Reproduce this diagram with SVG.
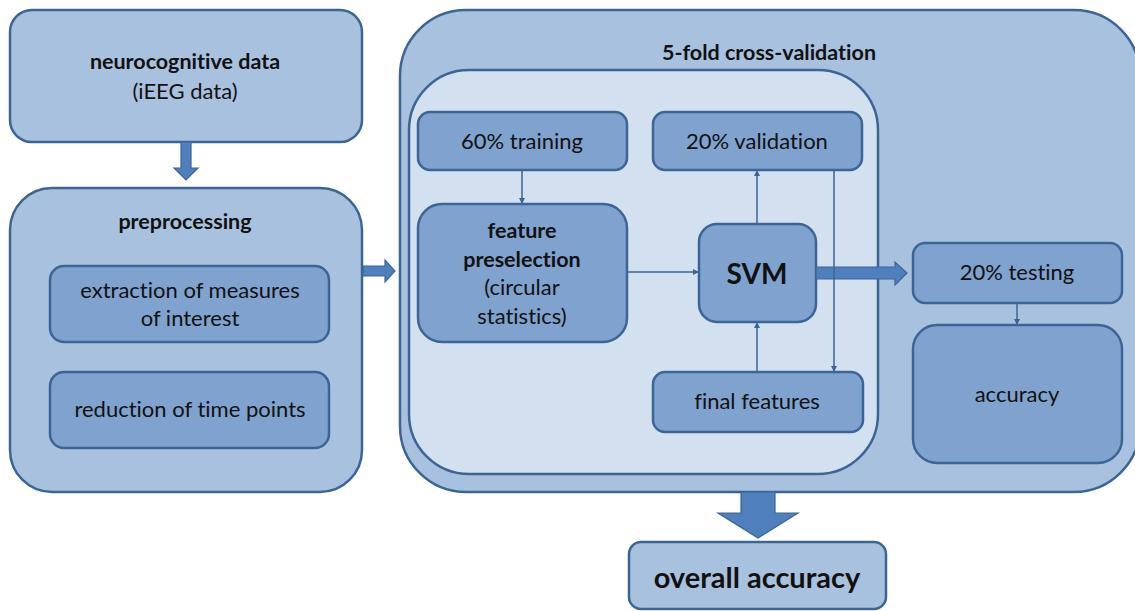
<svg xmlns="http://www.w3.org/2000/svg" width="1135" height="611" viewBox="0 0 1135 611">
  <defs>
    <style>
      .outer { fill: #a8c1df; stroke: #3c6596; stroke-width: 2.5; }
      .inner { fill: #7fa2cf; stroke: #3c6596; stroke-width: 2.5; }
      .pale { fill: #d3e0f0; stroke: #3c6596; stroke-width: 2.5; }
      .big { fill: #4f80bd; stroke: #3c6596; stroke-width: 1.2; }
      .link { fill: none; stroke: #3c6596; stroke-width: 1.5; }
      text { font-family: Lato, "Open Sans", "Liberation Sans", sans-serif; fill: #111; text-anchor: middle; font-size: 22px; font-variant-ligatures: none; }
      .b { font-weight: bold; font-size: 21.5px; }
    </style>
    <marker id="tip" viewBox="0 0 10 10" refX="10" refY="5" markerWidth="6" markerHeight="6" markerUnits="userSpaceOnUse" orient="auto">
      <path d="M0,0 L10,5 L0,10 z" fill="#3c6596"/>
    </marker>
  </defs>

  <!-- input data -->
  <g id="neurocognitive">
    <rect class="outer" x="10" y="10" width="352" height="132" rx="22"/>
    <text class="b" x="185" y="69">neurocognitive data</text>
    <text x="185" y="99">(iEEG data)</text>
  </g>

  <!-- preprocessing stage -->
  <g id="preprocessing">
    <rect class="outer" x="10" y="188" width="352" height="304" rx="42"/>
    <text class="b" x="185" y="229">preprocessing</text>
  </g>
  <g id="extraction">
    <rect class="inner" x="50" y="266" width="279" height="76" rx="14"/>
    <text x="190" y="298">extraction of measures</text>
    <text x="190" y="326">of interest</text>
  </g>
  <g id="reduction">
    <rect class="inner" x="50" y="372" width="279" height="76" rx="14"/>
    <text x="190" y="417">reduction of time points</text>
  </g>

  <!-- cross-validation frame -->
  <g id="crossvalidation">
    <rect class="outer" x="400" y="10" width="740" height="482" rx="66"/>
    <text class="b" x="769" y="60">5-fold cross-validation</text>
  </g>
  <g id="fold">
    <rect class="pale" x="409" y="70" width="469" height="404" rx="60"/>
  </g>
  <g id="training">
    <rect class="inner" x="418" y="112" width="209" height="58" rx="12"/>
    <text x="522" y="149">60% training</text>
  </g>
  <g id="validation">
    <rect class="inner" x="653" y="112" width="209" height="58" rx="12"/>
    <text x="757" y="149">20% validation</text>
  </g>
  <g id="preselection">
    <rect class="inner" x="418" y="204" width="209" height="138" rx="24"/>
    <text class="b" x="522" y="238">feature</text>
    <text class="b" x="522" y="267">preselection</text>
    <text x="522" y="295">(circular</text>
    <text x="522" y="324">statistics)</text>
  </g>
  <g id="svm">
    <rect class="inner" x="699" y="224" width="117" height="98" rx="18"/>
    <text class="b" x="757" y="284" style="font-size:28px">SVM</text>
  </g>
  <g id="finalfeatures">
    <rect class="inner" x="653" y="372" width="210" height="60" rx="12"/>
    <text x="757" y="409">final features</text>
  </g>
  <g id="testing">
    <rect class="inner" x="913" y="243" width="209" height="60" rx="12"/>
    <text x="1017" y="280">20% testing</text>
  </g>
  <g id="accuracy">
    <rect class="inner" x="913" y="325" width="209" height="138" rx="24"/>
    <text x="1017" y="402">accuracy</text>
  </g>

  <!-- result -->
  <g id="overall">
    <rect class="outer" x="629" y="542" width="257" height="67" rx="12"/>
    <text class="b" x="757" y="588" style="font-size:29px">overall accuracy</text>
  </g>

  <!-- connectors -->
  <g id="connectors">
    <path class="big" d="M181,142 H191 V168 H198 L186,180 L174,168 H181 Z"/>
    <path class="big" d="M363,266 H385 V260 L395,271 L385,282 V276 H363 Z"/>
    <path class="big" d="M816,267 H895 V262 L907,273 L895,285 V279 H816 Z"/>
    <path class="big" d="M741,492 H775 V513 H798 L758,538 L718,513 H741 Z"/>
    <line class="link" x1="522" y1="170" x2="522" y2="204" marker-end="url(#tip)"/>
    <line class="link" x1="627" y1="272" x2="699" y2="272" marker-end="url(#tip)"/>
    <line class="link" x1="757" y1="224" x2="757" y2="170" marker-end="url(#tip)"/>
    <line class="link" x1="757" y1="372" x2="757" y2="322" marker-end="url(#tip)"/>
    <line class="link" x1="834" y1="170" x2="834" y2="372" marker-end="url(#tip)"/>
    <line class="link" x1="1017" y1="303" x2="1017" y2="325" marker-end="url(#tip)"/>
  </g>
</svg>
